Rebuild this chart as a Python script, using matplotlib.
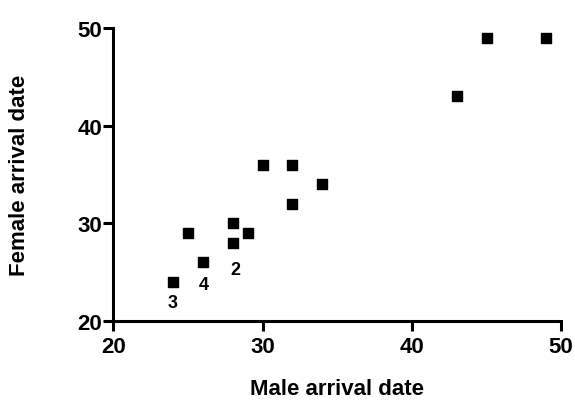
import matplotlib.pyplot as plt

# arrival dates
male = [24, 25, 26, 28, 28, 29, 30, 32, 32, 34, 43, 45, 49]
female = [24, 29, 26, 30, 28, 29, 36, 36, 32, 34, 43, 49, 49]

# numbered points (label, x, y)
lab_text = ["3", "4", "2"]
lab_x = [24, 26, 28]
lab_y = [24, 26, 28]

plt.rcParams['font.family'] = ['Liberation Sans', 'DejaVu Sans']
plt.rcParams['font.weight'] = 'bold'

fig = plt.figure(figsize=(5.75, 4.06), dpi=100)
ax = fig.add_axes([0.197, 0.207, 0.779, 0.722])

ax.scatter(male, female, marker='s', s=60, color='black', zorder=3)
offsets = [(0, -15), (1, -16), (2, -19)]
for t, x, y, off in zip(lab_text, lab_x, lab_y, offsets):
    ax.annotate(t, (x, y), xytext=off, textcoords='offset points',
                fontsize=13, fontweight='bold', ha='center', va='center')

ax.set_xlim(20, 50)
ax.set_ylim(20, 50)
ax.set_xticks([20, 30, 40, 50])
ax.set_yticks([20, 30, 40, 50])
for s in ['top', 'right']:
    ax.spines[s].set_visible(False)
for s in ['left', 'bottom']:
    ax.spines[s].set_linewidth(2.2)
ax.tick_params(width=2.2, length=7, labelsize=16)
ax.tick_params(axis='x', pad=4)
ax.tick_params(axis='y', pad=1)
for lbl in ax.get_xticklabels() + ax.get_yticklabels():
    lbl.set_fontweight('bold')

ax.set_xlabel("Male arrival date", fontsize=16, fontweight='bold')
ax.set_ylabel("Female arrival date", fontsize=16, fontweight='bold')
ax.xaxis.set_label_coords(0.5, -0.195)
ax.yaxis.set_label_coords(-0.185, 0.5)

fig.savefig("out.png", dpi=100)
